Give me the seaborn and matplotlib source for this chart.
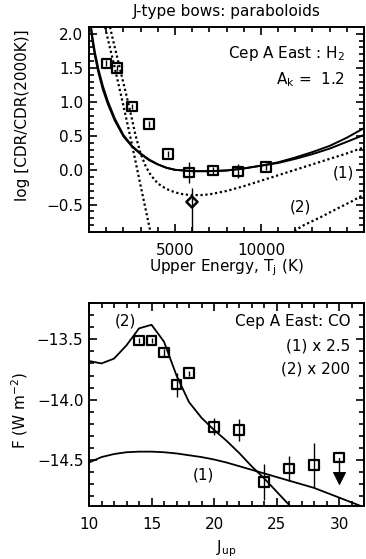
import numpy as np
import pandas as pd
import matplotlib
matplotlib.use('Agg')
import matplotlib.pyplot as plt
from matplotlib.ticker import MultipleLocator, FixedLocator
import seaborn as sns

# --- top panel: H2 column density ratios vs upper energy
h2_T = [1000, 1630, 2500, 3490, 4600, 5820, 7220, 8670, 10300]
h2_y = [1.57, 1.50, 0.94, 0.68, 0.24, -0.03, 0.00, -0.01, 0.05]
h2_err = [0.04, 0.04, 0.04, 0.04, 0.04, 0.16, 0.05, 0.10, 0.05]
# the odd one out (diamond)
h2_diam_T = [5990]
h2_diam_y = [-0.46]
h2_diam_lo = [0.50]
h2_diam_hi = [0.21]

fitA_T = [120, 200, 350, 550, 800, 1100, 1500, 2000, 2500, 3000, 3500, 4000, 4500, 5000,
          6000, 7000, 8000, 9000, 10000, 11000, 12000, 13000, 14000, 15000, 16000]
fitA_y = [2.1, 1.95, 1.72, 1.48, 1.24, 1.01, 0.76, 0.52, 0.36, 0.25, 0.16, 0.09, 0.04, 0.01,
          -0.01, -0.01, 0.0, 0.03, 0.07, 0.12, 0.19, 0.27, 0.36, 0.48, 0.62]
fitB_y = [2.06, 1.90, 1.67, 1.43, 1.19, 0.97, 0.73, 0.50, 0.35, 0.24, 0.15, 0.09, 0.04, 0.01,
          -0.01, -0.01, 0.0, 0.03, 0.07, 0.11, 0.17, 0.24, 0.32, 0.42, 0.52]

mod1_T = [1220, 1500, 1800, 2100, 2270, 2500, 2700, 3000, 3300, 3600, 4000, 4500, 5000, 5500,
          6000, 6500, 7000, 8000, 9000, 10000, 11000, 12000, 13000, 14000, 15000, 16000]
mod1_y = [2.1, 1.8, 1.49, 1.18, 1.0, 0.75, 0.52, 0.25, 0.06, -0.07, -0.19, -0.27, -0.32, -0.35,
          -0.36, -0.36, -0.35, -0.30, -0.23, -0.15, -0.07, 0.01, 0.09, 0.17, 0.25, 0.34]

mod2a_T = [930, 1500, 2000, 2500, 3000, 3550, 3700]
mod2a_y = [2.1, 1.5, 0.95, 0.38, -0.22, -0.87, -1.0]
mod2b_T = [11700, 12500, 13500, 14500, 15300, 16000]
mod2b_y = [-0.92, -0.80, -0.68, -0.55, -0.45, -0.35]

# --- bottom panel: CO line fluxes
co_J = [14, 15, 16, 17, 18, 20, 22, 24, 26, 28]
co_F = [-13.51, -13.51, -13.61, -13.875, -13.78, -14.225, -14.25, -14.68, -14.57, -14.54]
co_err = [0.02, 0.02, 0.03, 0.10, 0.02, 0.07, 0.09, 0.15, 0.10, 0.18]
co_lim_J = [30]
co_lim_F = [-14.48]
co_lim_end = [-14.65]

co1_J = list(range(10, 33))
co1_F = [-14.52, -14.475, -14.45, -14.435, -14.43, -14.43, -14.435, -14.445, -14.46, -14.475,
         -14.495, -14.52, -14.55, -14.58, -14.61, -14.64, -14.67, -14.70, -14.73, -14.77,
         -14.81, -14.85, -14.89]
co2_J = list(range(10, 28))
co2_F = [-13.68, -13.70, -13.66, -13.55, -13.41, -13.38, -13.52, -13.80, -14.02, -14.15,
         -14.25, -14.34, -14.44, -14.55, -14.65, -14.76, -14.87, -14.98]

sns.set_theme(style='ticks')
plt.rcParams['font.family'] = ['DejaVu Sans']
plt.rcParams['mathtext.fontset'] = 'dejavusans'
plt.rcParams['axes.linewidth'] = 1.4
for k in ['text.color', 'axes.labelcolor', 'xtick.color', 'ytick.color', 'axes.edgecolor']:
    plt.rcParams[k] = 'black'

fig = plt.figure(figsize=(3.66, 5.59), dpi=100)
ax1 = fig.add_axes([0.2432, 0.585, 0.7514, 0.3667])
ax2 = fig.add_axes([0.2432, 0.0948, 0.7514, 0.3631])

fs = 11
dots = (0, (1, 1.2))

def style_ax(ax):
    ax.tick_params(which='both', direction='in', top=True, right=True, colors='black',
                   labelsize=fs, width=1.2)
    ax.tick_params(which='major', length=6)
    ax.tick_params(which='minor', length=3.5)
    ax.tick_params(axis='x', pad=8)
    ax.tick_params(axis='y', pad=4)
    for s in ax.spines.values():
        s.set_color('black')
        s.set_linewidth(1.4)

# top panel
sns.lineplot(x=fitA_T, y=fitA_y, ax=ax1, color='black', lw=1.4)
sns.lineplot(x=fitA_T, y=fitB_y, ax=ax1, color='black', lw=1.4)
sns.lineplot(x=mod1_T, y=mod1_y, ax=ax1, color='black', lw=1.6, linestyle=dots)
sns.lineplot(x=mod2a_T, y=mod2a_y, ax=ax1, color='black', lw=1.6, linestyle=dots)
sns.lineplot(x=mod2b_T, y=mod2b_y, ax=ax1, color='black', lw=1.6, linestyle=dots)

ax1.errorbar(h2_T, h2_y, yerr=h2_err, fmt='none', ecolor='black', elinewidth=1.0, capsize=0)
ax1.errorbar(h2_diam_T, h2_diam_y, yerr=[h2_diam_lo, h2_diam_hi], fmt='none',
             ecolor='black', elinewidth=1.0, capsize=0)
sns.scatterplot(x=h2_T, y=h2_y, ax=ax1, marker='s', s=45, facecolor='none',
                edgecolor='black', linewidth=1.6, zorder=5)
sns.scatterplot(x=h2_diam_T, y=h2_diam_y, ax=ax1, marker='D', s=32, facecolor='none',
                edgecolor='black', linewidth=1.8, zorder=5)

ax1.set_xlim(0, 16000)
ax1.set_ylim(-0.9, 2.1)
ax1.xaxis.set_major_locator(FixedLocator([5000, 10000]))
ax1.xaxis.set_minor_locator(MultipleLocator(1000))
ax1.set_yticks([-0.5, 0.0, 0.5, 1.0, 1.5, 2.0])
ax1.set_yticklabels(['\u22120.5', '0.0', '0.5', '1.0', '1.5', '2.0'])
ax1.yaxis.set_minor_locator(MultipleLocator(0.1))
style_ax(ax1)
ax1.set_xlabel('Upper Energy, T$_\\mathregular{j}$ (K)', fontsize=fs)
ax1.set_ylabel('log [CDR/CDR(2000K)]', fontsize=fs)
ax1.xaxis.set_label_coords(0.5, -0.125)
ax1.yaxis.set_label_coords(-0.215, 0.57)
ax1.set_title('J-type bows: paraboloids', fontsize=fs, pad=8)
ax1.text(0.93, 0.87, 'Cep A East : H$_\\mathregular{2}$', transform=ax1.transAxes,
         ha='right', va='center', fontsize=fs)
ax1.text(0.93, 0.745, 'A$_\\mathregular{k}$ =  1.2', transform=ax1.transAxes,
         ha='right', va='center', fontsize=fs)
ax1.text(0.965, 0.29, '(1)', transform=ax1.transAxes, ha='right', va='center', fontsize=fs)
ax1.text(0.77, 0.12, '(2)', transform=ax1.transAxes, ha='center', va='center', fontsize=fs)

# bottom panel
sns.lineplot(x=co1_J, y=co1_F, ax=ax2, color='black', lw=1.3)
sns.lineplot(x=co2_J, y=co2_F, ax=ax2, color='black', lw=1.3)
ax2.errorbar(co_J, co_F, yerr=co_err, fmt='none', ecolor='black', elinewidth=1.0, capsize=0)
sns.scatterplot(x=co_J, y=co_F, ax=ax2, marker='s', s=45, facecolor='none',
                edgecolor='black', linewidth=1.6, zorder=5)
sns.scatterplot(x=co_lim_J, y=co_lim_F, ax=ax2, marker='s', s=45, facecolor='none',
                edgecolor='black', linewidth=1.6, zorder=5)
ax2.plot([co_lim_J[0], co_lim_J[0]], [co_lim_F[0], co_lim_end[0]], color='black', lw=1.0)
sns.scatterplot(x=co_lim_J, y=co_lim_end, ax=ax2, marker='v', s=75, color='black',
                edgecolor='black', zorder=5)

ax2.set_xlim(10, 32)
ax2.set_ylim(-14.88, -13.2)
ax2.xaxis.set_major_locator(MultipleLocator(5))
ax2.xaxis.set_minor_locator(MultipleLocator(1))
ax2.set_yticks([-14.5, -14.0, -13.5])
ax2.set_yticklabels(['\u221214.5', '\u221214.0', '\u221213.5'])
ax2.yaxis.set_minor_locator(MultipleLocator(0.1))
style_ax(ax2)
ax2.set_xlabel('J$_\\mathregular{up}$', fontsize=fs)
ax2.set_ylabel('F (W m$^\\mathregular{-2}$)', fontsize=fs)
ax2.xaxis.set_label_coords(0.5, -0.16)
ax2.yaxis.set_label_coords(-0.215, 0.47)
ax2.text(0.095, 0.91, '(2)', transform=ax2.transAxes, ha='left', va='center', fontsize=fs)
ax2.text(0.95, 0.91, 'Cep A East: CO', transform=ax2.transAxes, ha='right', va='center', fontsize=fs)
ax2.text(0.95, 0.79, '(1) x 2.5', transform=ax2.transAxes, ha='right', va='center', fontsize=fs)
ax2.text(0.95, 0.675, '(2) x 200', transform=ax2.transAxes, ha='right', va='center', fontsize=fs)
ax2.text(0.415, 0.155, '(1)', transform=ax2.transAxes, ha='center', va='center', fontsize=fs)

fig.savefig('out.png', dpi=100)
